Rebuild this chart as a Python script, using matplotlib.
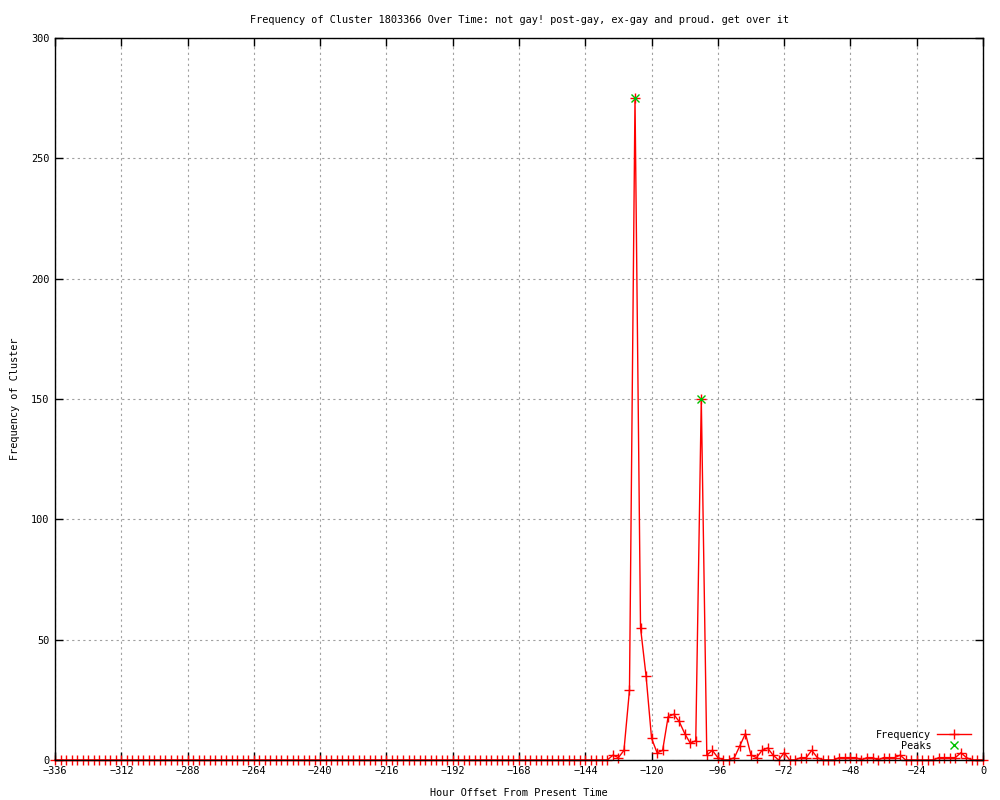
import matplotlib
matplotlib.use("Agg")
import matplotlib.pyplot as plt
from matplotlib.lines import Line2D

# ---- data ----
hours = list(range(-336, 1, 2))
freq = [
    # -336 .. -136
    0, 0, 0, 0, 0, 0, 0, 0, 0, 0,
    0, 0, 0, 0, 0, 0, 0, 0, 0, 0,
    0, 0, 0, 0, 0, 0, 0, 0, 0, 0,
    0, 0, 0, 0, 0, 0, 0, 0, 0, 0,
    0, 0, 0, 0, 0, 0, 0, 0, 0, 0,
    0, 0, 0, 0, 0, 0, 0, 0, 0, 0,
    0, 0, 0, 0, 0, 0, 0, 0, 0, 0,
    0, 0, 0, 0, 0, 0, 0, 0, 0, 0,
    0, 0, 0, 0, 0, 0, 0, 0, 0, 0,
    0, 0, 0, 0, 0, 0, 0, 0, 0, 0,
    0,
    # -134 .. -100
    2, 1, 4, 29, 275, 55, 35, 9, 3, 4, 18, 19, 16, 11, 7, 8, 150, 2,
    # -98 .. -64
    4, 1, 0, 0, 1, 6, 11, 2, 1, 4, 5, 2, 0, 3, 0, 0, 1, 1,
    # -62 .. -28
    4, 1, 0, 0, 0, 1, 1, 1, 1, 0, 1, 1, 0, 1, 1, 1, 2, 0,
    # -26 .. 0
    0, 0, 0, 0, 0, 1, 1, 1, 1, 3, 1, 0, 0, 0,
]
peak_hours = [-126, -102]
peak_values = [275, 150]

x_ticks = list(range(-336, 1, 24))
y_ticks = list(range(0, 301, 50))

title = "Frequency of Cluster 1803366 Over Time: not gay! post-gay, ex-gay and proud. get over it"
xlabel = "Hour Offset From Present Time"
ylabel = "Frequency of Cluster"

# ---- figure ----
plt.rcParams['font.family'] = ['DejaVu Sans Mono']
fs = 7.4

fig = plt.figure(figsize=(10, 8), dpi=100)
ax = fig.add_axes([0.055, 0.05, 0.928, 0.9025])

ax.plot(hours, freq, color='red', lw=1, marker='+', markersize=7,
        markeredgewidth=1, label='Frequency', clip_on=False, zorder=2)
ax.plot(peak_hours, peak_values, linestyle='none', marker='x', color='#00c000',
        markersize=6, markeredgewidth=1, label='Peaks', zorder=3)

ax.set_xlim(-336, 0)
ax.set_ylim(0, 300)
ax.set_xticks(x_ticks)
ax.set_yticks(y_ticks)
ax.tick_params(direction='in', length=6, width=1, top=True, right=True,
               labelsize=fs, pad=4, colors='black')
ax.grid(True, color='#a0a0a0', linestyle=(0, (2, 3)), linewidth=0.8)
for s in ax.spines.values():
    s.set_linewidth(1)
    s.set_color('black')
    s.set_zorder(2.5)

ax.set_title(title, fontsize=fs, pad=11)
ax.set_xlabel(xlabel, fontsize=fs, labelpad=9)
ax.set_ylabel(ylabel, fontsize=fs, labelpad=8)

handles = [
    Line2D([0], [0], color='red', lw=1, marker='+', markersize=7),
    Line2D([0], [0], linestyle='none', marker='x', color='#00c000', markersize=6),
]
leg = ax.legend(handles, ['Frequency', 'Peaks'], loc='lower right',
                bbox_to_anchor=(0.9945, 0.003), markerfirst=False, frameon=False,
                fontsize=7.3, handlelength=3.3, handletextpad=0.6,
                labelspacing=0.1, borderaxespad=0.3, numpoints=1)
for t in leg.get_texts():
    t.set_ha('right')

fig.savefig('out.png', dpi=100)
